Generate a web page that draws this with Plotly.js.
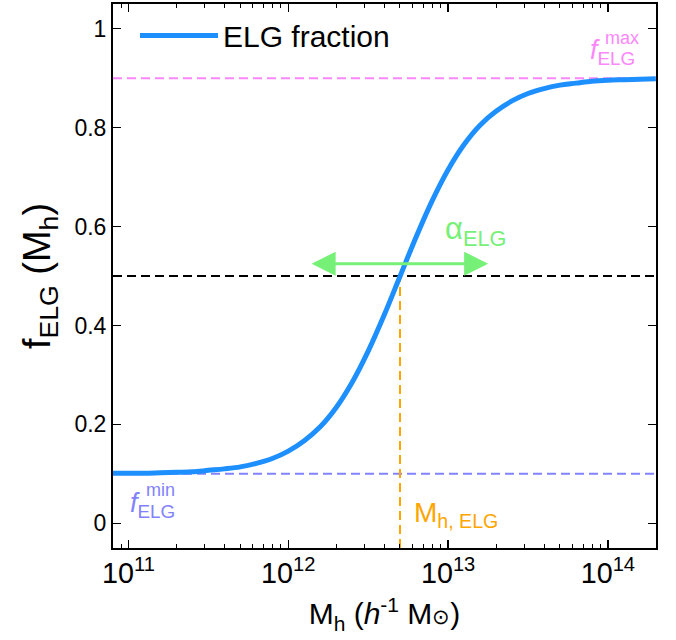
<!DOCTYPE html>
<html>
<head>
<meta charset="utf-8">
<script src="https://cdn.plot.ly/plotly-3.0.1.min.js"></script>
<style>html,body{margin:0;padding:0;background:#fff;}</style>
</head>
<body>
<div id="chart" style="width:676px;height:640px;"></div>
<script>
// ---- data ----
const logHaloMass = [10.9,11.0,11.1,11.2,11.3,11.4,11.5,11.6,11.7,11.8,11.9,12.0,12.1,12.2,12.3,12.4,12.5,12.6,12.7,12.8,12.9,13.0,13.1,13.2,13.3,13.4,13.5,13.6,13.7,13.8,13.9,14.0,14.1,14.2,14.3];
const elgFraction = [0.101,0.101,0.101,0.102,0.103,0.104,0.107,0.110,0.114,0.121,0.131,0.146,0.167,0.195,0.234,0.285,0.348,0.421,0.500,0.579,0.652,0.715,0.766,0.805,0.833,0.854,0.869,0.879,0.886,0.890,0.894,0.896,0.897,0.898,0.899];
const xRangeMass = [8e10, 2e14];
const yRange = [-0.05, 1.05];
const fMin = [0.1, 0.1];
const fMax = [0.9, 0.9];
const fHalf = [0.5, 0.5];
const mhELG = [5e12, 5e12];
const mhELGy = [-0.05, 0.5];
const alphaArrowMass = [1.37e12, 1.78e13];
const alphaArrowY = 0.525;
const yTicks = [0, 0.2, 0.4, 0.6, 0.8, 1];
const yTickText = ['0', '0.2', '0.4', '0.6', '0.8', '1'];

const haloMass = logHaloMass.map(v => Math.pow(10, v));
const FONT = 'Liberation Sans, Arial, sans-serif';
const PINK = '#fb87fb', LBLUE = '#8282ff', ORANGE = '#ffa500', GREEN = '#77f077', CURVE = '#1e8fff';
const dash = '9px,5px';

const traces = [
  {x: xRangeMass, y: fMax, mode: 'lines', line: {color: PINK, width: 2, dash: dash}, showlegend: false, hoverinfo: 'skip'},
  {x: xRangeMass, y: fMin, mode: 'lines', line: {color: LBLUE, width: 2, dash: dash}, showlegend: false, hoverinfo: 'skip'},
  {x: xRangeMass, y: fHalf, mode: 'lines', line: {color: '#000', width: 2, dash: dash}, showlegend: false, hoverinfo: 'skip'},
  {x: mhELG, y: mhELGy, mode: 'lines', line: {color: ORANGE, width: 2, dash: dash}, showlegend: false, hoverinfo: 'skip'},
  {x: haloMass, y: elgFraction, mode: 'lines', name: 'ELG fraction', line: {color: CURVE, width: 5, shape: 'spline', smoothing: 1}}
];

const L = Math.log10;
const layout = {
  width: 676, height: 640,
  margin: {l: 113, r: 20, t: 4, b: 92},
  paper_bgcolor: '#fff', plot_bgcolor: '#fff',
  font: {family: FONT, color: '#000'},
  showlegend: true,
  legend: {x: 0.0405, y: 0.99, xanchor: 'left', yanchor: 'top', bgcolor: 'rgba(0,0,0,0)', font: {size: 30, family: FONT}, itemwidth: 78},
  xaxis: {
    type: 'log', range: [L(xRangeMass[0]), L(xRangeMass[1])],
    showline: true, linecolor: '#000', linewidth: 2, mirror: 'ticks',
    ticks: 'inside', ticklen: 8, tickwidth: 1.5, tickcolor: '#000',
    dtick: 1, exponentformat: 'power', showgrid: false, zeroline: false,
    tickfont: {size: 23, family: FONT},
    minor: {ticks: 'inside', ticklen: 4, tickwidth: 1, tickcolor: '#000', dtick: 'D1', showgrid: false},
    title: {text: 'M<sub>h</sub> (<i>h</i><sup>-1</sup> M<span style="font-size:21px">⊙</span>)', font: {size: 30, family: FONT}, standoff: 15}
  },
  yaxis: {
    range: yRange, tickvals: yTicks, ticktext: yTickText,
    showline: true, linecolor: '#000', linewidth: 2, mirror: 'ticks',
    ticks: 'inside', ticklen: 8, tickwidth: 1.5, tickcolor: '#000',
    showgrid: false, zeroline: false,
    tickfont: {size: 23, family: FONT},
    title: {text: 'f<sub>ELG</sub> (M<sub>h</sub>)', font: {size: 38, family: FONT}, standoff: 12}
  },
  annotations: [
    {x: L(alphaArrowMass[1]), y: alphaArrowY, ax: L(alphaArrowMass[0]), ay: alphaArrowY, xref: 'x', yref: 'y', axref: 'x', ayref: 'y',
     text: '', showarrow: true, arrowside: 'end+start', arrowhead: 2, arrowsize: 1.6, arrowwidth: 3, arrowcolor: GREEN, standoff: 0, startstandoff: 0},
    {x: 12.967, y: 0.592, xref: 'x', yref: 'y', xanchor: 'left', yanchor: 'middle', showarrow: false,
     text: 'α<sub>ELG</sub>', font: {size: 31, color: GREEN, family: FONT}},
    {x: 13.873, y: 0.953, xref: 'x', yref: 'y', xanchor: 'left', yanchor: 'middle', showarrow: false,
     text: '<i>f</i><sub>ELG</sub>', font: {size: 27, color: PINK, family: FONT}},
    {x: 13.97, y: 0.982, xref: 'x', yref: 'y', xanchor: 'left', yanchor: 'middle', showarrow: false,
     text: 'max', font: {size: 18, color: PINK, family: FONT}},
    {x: 10.998, y: 0.036, xref: 'x', yref: 'y', xanchor: 'left', yanchor: 'middle', showarrow: false,
     text: '<i>f</i><sub>ELG</sub>', font: {size: 27, color: LBLUE, family: FONT}},
    {x: 11.098, y: 0.068, xref: 'x', yref: 'y', xanchor: 'left', yanchor: 'middle', showarrow: false,
     text: 'min', font: {size: 18, color: LBLUE, family: FONT}},
    {x: 12.773, y: 0.018, xref: 'x', yref: 'y', xanchor: 'left', yanchor: 'middle', showarrow: false,
     text: 'M<sub>h, ELG</sub>', font: {size: 28, color: ORANGE, family: FONT}}
  ]
};

Plotly.newPlot('chart', traces, layout, {displayModeBar: false, staticPlot: true});
</script>
</body>
</html>
